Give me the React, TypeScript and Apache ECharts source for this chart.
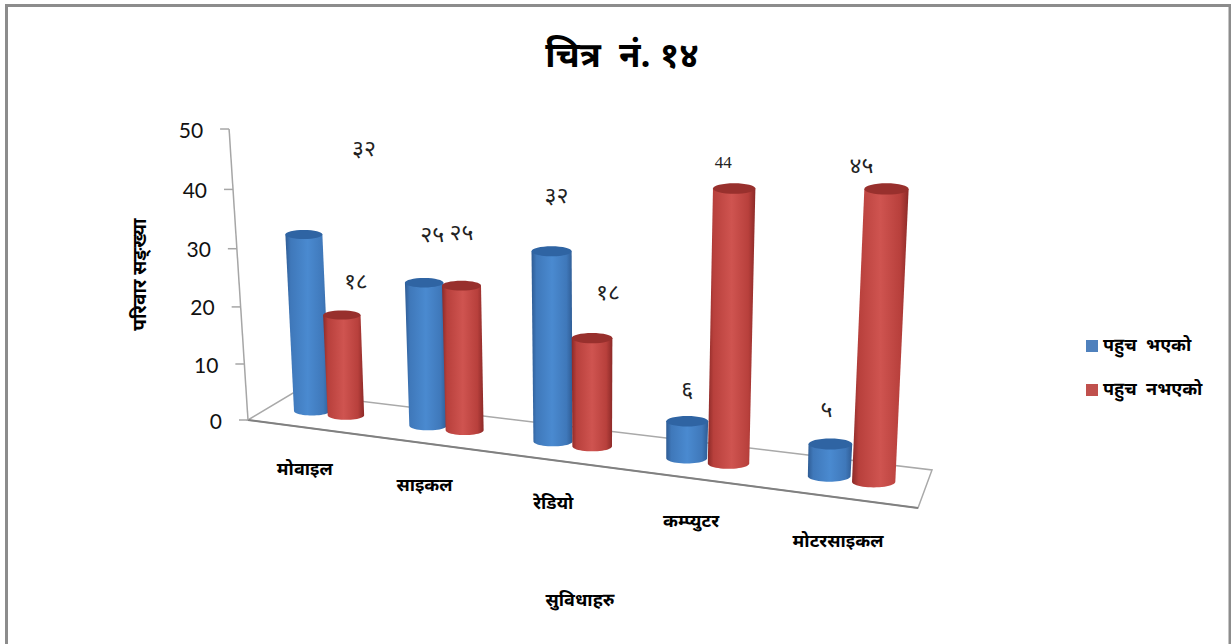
import React, { useEffect, useRef } from "react";
import * as echarts from "echarts";

const categories = ["मोवाइल", "साइकल", "रेडियो", "कम्प्युटर", "मोटरसाइकल"];
const accessValues = [32, 25, 32, 6, 5];
const noAccessValues = [18, 25, 18, 44, 45];
const accessLabels = ["३२", "२५", "३२", "६", "५"];
const noAccessLabels = ["१८", "२५", "१८", "44", "४५"];
const tickValues = [0, 10, 20, 30, 40, 50];
const accessName = "पहुच  भएको";
const noAccessName = "पहुच  नभएको";

const accessShift = [[60, -85], [8, -47], [5, -54], [0, -30], [-4, -33]];
const noAccessShift = [[14, -32], [0, -52], [16, -44], [-11, -26], [-25, -22]];

const FONT = '"Noto Sans Devanagari","Noto Sans","Lohit Devanagari","FreeSans","DejaVu Sans",sans-serif';

const perspX = (t: number) => 312 + 111.7 * t + 4.4 * t * t;
const baseY = (x: number) => 411 + (x - 312) * 0.126;
const heightK = (x: number) => (5.5 + (x - 305) * 0.00177) / 5.82;
const lean = (x: number) => (x - 600) * 0.00016;
const halfW = (x: number) => 18 + (x - 312) * 0.0065;

function cylinder(api: any, offset: number, shifts: number[][], labels: string[], dark: string, mid: string, edge: string, top: string, withCategory: boolean) {
  const i = api.value(0);
  const v = api.value(1);
  const band = api.size([1, 0])[0];
  const t = (api.coord([i, 0])[0] - api.coord([0, 0])[0]) / band + offset;
  const bx = perspX(t);
  const by = baseY(bx);
  const h = api.size([0, v])[1] * heightK(bx);
  const tx = bx + h * lean(bx);
  const ty = by - h;
  const hw = halfW(bx);
  const ry = 4.5 + (bx - 312) * 0.002;
  const pts: number[][] = [[tx - hw - 0.5, ty], [tx + hw + 0.5, ty]];
  for (let a = 0; a <= 24; a++) {
    const ang = (a / 24) * Math.PI;
    pts.push([bx + hw * Math.cos(ang), by + ry * Math.sin(ang)]);
  }
  const fill = new echarts.graphic.LinearGradient(0, 0, 1, 0, [
    { offset: 0, color: edge },
    { offset: 0.12, color: dark },
    { offset: 0.5, color: mid },
    { offset: 0.85, color: dark },
    { offset: 1, color: edge },
  ]);
  const children: any[] = [
    { type: "polygon", shape: { points: pts }, style: { fill } },
    { type: "ellipse", shape: { cx: tx, cy: ty, rx: hw + 0.5, ry }, style: { fill: top } },
    {
      type: "text",
      x: tx + shifts[i][0],
      y: ty + shifts[i][1],
      style: {
        text: labels[i],
        fill: "#222",
        font: labels[i] === "44" ? '17px "Liberation Serif",serif' : `23px ${FONT}`,
        align: "center",
        verticalAlign: "middle",
      },
    },
  ];
  if (withCategory) {
    children.push({
      type: "text",
      x: bx + (bx - 545) * 0.031,
      y: by + 59.5 + (bx - 312) * 0.014,
      style: {
        text: categories[i],
        fill: "#000",
        font: `bold 18px ${FONT}`,
        align: "center",
        verticalAlign: "middle",
      },
    });
  }
  return { type: "group", children };
}

function yTick(api: any) {
  const v = api.value(1);
  const zero = api.coord([0, 0])[1];
  const y = zero - api.size([0, v])[1] * (0.9527 + 0.000945 * v);
  const left = api.coord([0, 0])[0] - api.size([1, 0])[0] / 2;
  const ax = left - (zero - y) * 0.065;
  const line = { stroke: "#a6a6a6", lineWidth: 1.5 };
  const children: any[] = [
    { type: "line", shape: { x1: ax - 9, y1: y, x2: ax, y2: y }, style: line },
    {
      type: "text",
      x: ax - 26,
      y,
      style: { text: String(v), fill: "#111", font: "21px Lato,sans-serif", align: "right", verticalAlign: "middle" },
    },
  ];
  if (v === tickValues[tickValues.length - 1]) {
    children.push({ type: "line", shape: { x1: ax, y1: y, x2: left, y2: zero }, style: line });
  }
  return { type: "group", children };
}

export default function App() {
  const ref = useRef<HTMLDivElement>(null);
  useEffect(() => {
    const chart = echarts.init(ref.current!, undefined, { renderer: "svg" });
    chart.setOption({
      animation: false,
      backgroundColor: "#fff",
      title: {
        text: "चित्र  नं. १४",
        left: 617,
        top: 36,
        textAlign: "center",
        textStyle: { fontFamily: FONT, fontSize: 35, fontWeight: "bold", color: "#000" },
      },
      legend: {
        orient: "vertical",
        left: 1086,
        top: 337,
        padding: 0,
        itemWidth: 12,
        itemHeight: 12,
        itemGap: 26,
        icon: "rect",
        data: [
          { name: accessName, itemStyle: { color: "#4f81bd" } },
          { name: noAccessName, itemStyle: { color: "#c0504d" } },
        ],
        textStyle: { fontFamily: FONT, fontSize: 18, fontWeight: "bold", color: "#000", lineHeight: 14 },
      },
      grid: { left: 248, top: 129, width: 664, height: 291 },
      xAxis: {
        type: "category",
        data: categories,
        name: "सुविधाहरु",
        nameLocation: "middle",
        nameGap: 172,
        nameTextStyle: { fontFamily: FONT, fontSize: 18, fontWeight: "bold", color: "#000" },
        axisLine: { show: false },
        axisTick: { show: false },
        axisLabel: { show: false },
      },
      yAxis: {
        type: "value",
        min: 0,
        max: 50,
        interval: 10,
        name: "परिवार सङ्ख्या",
        nameLocation: "middle",
        nameRotate: 90,
        nameGap: 97,
        nameTextStyle: { fontFamily: FONT, fontSize: 19, fontWeight: "bold", color: "#000" },
        axisLine: { show: false },
        axisTick: { show: false },
        axisLabel: { show: false },
        splitLine: { show: false },
      },
      graphic: [
        {
          type: "polyline",
          z: -2,
          shape: { points: [[6.5, 644], [6.5, 5.5], [1230, 5.5], [1230, 644]] },
          style: { fill: "none", stroke: "#8c8c8c", lineWidth: 3 },
        },
        {
          type: "polygon",
          z: -1,
          shape: { points: [[248, 420], [293, 393], [932, 470], [918, 508]] },
          style: { fill: "#fff", stroke: "#a9a9a9", lineWidth: 1.5 },
        },
        {
          type: "line",
          z: -1,
          shape: { x1: 248, y1: 420, x2: 918, y2: 508 },
          style: { stroke: "#808080", lineWidth: 2 },
        },
      ],
      series: [
        {
          type: "custom",
          name: "ticks",
          data: tickValues.map((v) => [0, v]),
          renderItem: (_p: any, api: any) => yTick(api),
        },
        {
          type: "custom",
          name: accessName,
          itemStyle: { color: "#4f81bd" },
          data: accessValues.map((v, i) => [i, v]),
          renderItem: (_p: any, api: any) =>
            cylinder(api, 0, accessShift, accessLabels, "#3f78ba", "#4a8ad0", "#2f5c94", "#2f64a3", true),
        },
        {
          type: "custom",
          name: noAccessName,
          itemStyle: { color: "#c0504d" },
          data: noAccessValues.map((v, i) => [i, v]),
          renderItem: (_p: any, api: any) =>
            cylinder(api, 0.3, noAccessShift, noAccessLabels, "#b8403c", "#cf5450", "#8c2a28", "#98302d", false),
        },
      ],
    });
    return () => chart.dispose();
  }, []);
  return <div ref={ref} style={{ position: "absolute", left: 0, top: 0, width: 1231, height: 644 }} />;
}
